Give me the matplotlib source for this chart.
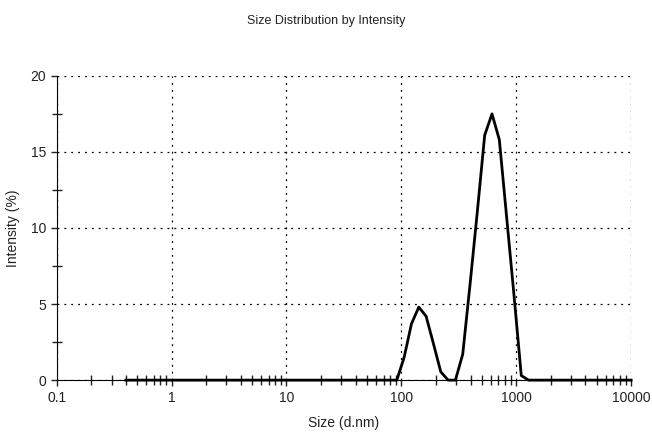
import numpy as np
import matplotlib
matplotlib.use('Agg')
import matplotlib.pyplot as plt
from matplotlib.ticker import FixedLocator, NullFormatter

plt.rcParams['font.family'] = ['Liberation Sans', 'DejaVu Sans']

# Malvern size classes (d.nm) and intensity (%)
sizes = [0.4, 0.4632, 0.5365, 0.6213, 0.7195, 0.8332, 0.9649, 1.117, 1.294, 1.499,
         1.736, 2.010, 2.328, 2.696, 3.122, 3.615, 4.187, 4.849, 5.615, 6.503,
         7.531, 8.721, 10.10, 11.70, 13.54, 15.69, 18.17, 21.04, 24.36, 28.21,
         32.67, 37.84, 43.82, 50.75, 58.77, 68.06, 78.82, 91.28, 105.7, 122.4,
         141.8, 164.2, 190.1, 220.2, 255.0, 295.3, 342.0, 396.1, 458.7, 531.2,
         615.1, 712.4, 825.0, 955.4, 1106, 1281, 1484, 1718, 1990, 2305,
         2669, 3091, 3580, 4145, 4801, 5560, 6439, 7456, 8635, 10000]
intensity = [0]*38 + [1.5, 3.7, 4.8, 4.2, 2.4, 0.55, 0, 0, 1.7, 6.3,
                      11.1, 16.1, 17.5, 15.8, 10.7, 5.6, 0.3] + [0]*15

fig = plt.figure(figsize=(6.52, 4.41), dpi=100)
ax = fig.add_axes([0.087, 0.138, 0.881, 0.69])

ax.plot(sizes, intensity, color='black', lw=2, clip_on=False, zorder=5)

ax.set_xscale('log')
ax.set_xlim(0.1, 10000)
ax.set_ylim(0, 20)

ax.set_xticks([0.1, 1, 10, 100, 1000, 10000])
ax.set_xticklabels(['0.1', '1', '10', '100', '1000', '10000'])
minors = []
for d in [0.1, 1, 10, 100, 1000]:
    for m in range(2, 10):
        minors.append(d*m)
ax.xaxis.set_minor_locator(FixedLocator(minors))
ax.xaxis.set_minor_formatter(NullFormatter())
ax.set_yticks([0, 5, 10, 15, 20])
ax.yaxis.set_minor_locator(FixedLocator([2.5, 7.5, 12.5, 17.5]))

ax.tick_params(which='major', direction='out', length=4, width=1, labelsize=10, colors='#222222')
ax.tick_params(which='minor', direction='inout', length=7, width=1, color='#222222')

ax.spines['top'].set_visible(False)
ax.spines['right'].set_visible(False)
ax.grid(True, which='major', color='black', linestyle=(0, (1.5, 4)), lw=0.9)

ax.set_xlabel('Size (d.nm)', fontsize=10, color='#222222', labelpad=8)
ax.set_ylabel('Intensity (%)', fontsize=10, color='#222222', labelpad=8)
fig.suptitle('Size Distribution by Intensity', fontsize=9, y=0.965, color='#222222')

fig.savefig('out.png', dpi=100)
